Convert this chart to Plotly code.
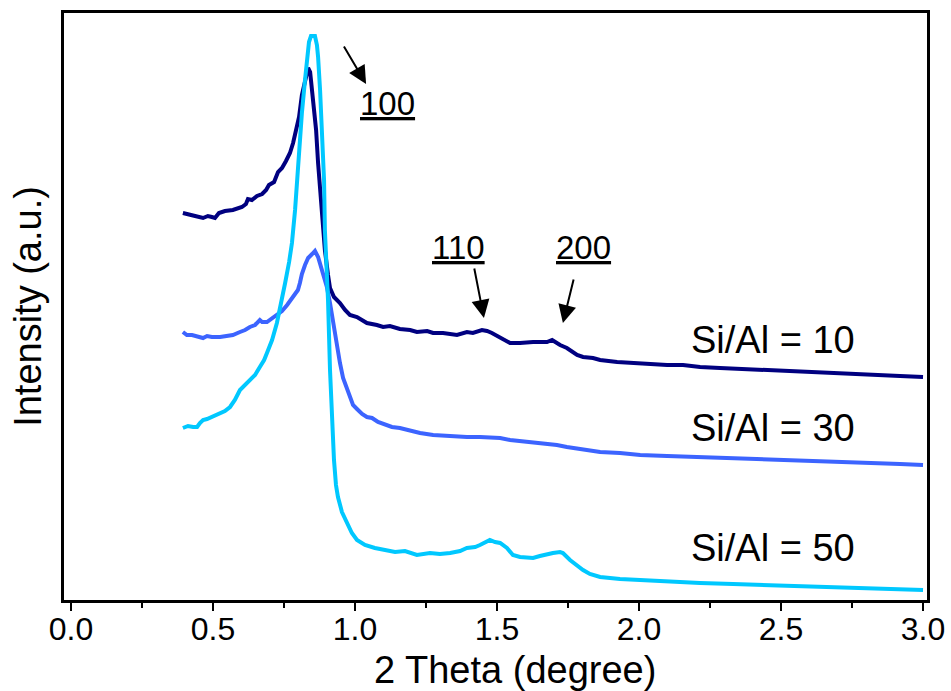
import plotly.graph_objects as go

# Small-angle XRD patterns (2θ in degrees, intensity in arbitrary offset units)
theta_10 = [0.394, 0.412, 0.437, 0.465, 0.482, 0.496, 0.507, 0.521, 0.542, 0.570,
            0.588, 0.602, 0.616, 0.623, 0.637, 0.655, 0.673, 0.687, 0.697, 0.715,
            0.729, 0.743, 0.757, 0.771, 0.782, 0.792, 0.803, 0.813, 0.824, 0.835,
            0.842, 0.852, 0.863, 0.870, 0.880, 0.887, 0.894, 0.905, 0.912, 0.926,
            0.947, 0.965, 0.982, 1.007, 1.042, 1.077, 1.099, 1.123, 1.158, 1.194,
            1.218, 1.254, 1.275, 1.310, 1.359, 1.394, 1.415, 1.447, 1.465, 1.482,
            1.511, 1.546, 1.581, 1.627, 1.676, 1.694, 1.722, 1.746, 1.782, 1.803,
            1.838, 1.863, 1.923, 1.979, 2.039, 2.099, 2.155, 2.215, 2.285, 2.356,
            2.451, 2.532, 2.602, 2.683, 2.778, 2.849, 2.919, 3.000]
int_10 = [387, 386, 384, 382, 384, 383, 382, 387, 389, 390,
          392, 393, 396, 401, 400, 404, 406, 410, 415, 418,
          428, 432, 439, 447, 457, 470, 483, 505, 520, 532,
          528, 503, 470, 437, 400, 370, 350, 325, 312, 303,
          297, 290, 285, 283, 277, 275, 273, 274, 271, 270,
          268, 269, 267, 267, 265, 268, 267, 270, 269, 267,
          262, 257, 257, 258, 258, 260, 255, 252, 245, 243,
          242, 240, 238, 237, 236, 235, 235, 233, 232, 231,
          230, 229, 228, 227, 226, 225, 224, 223]

theta_30 = [0.394, 0.408, 0.426, 0.444, 0.465, 0.479, 0.496, 0.525, 0.546, 0.570,
            0.595, 0.613, 0.630, 0.648, 0.665, 0.673, 0.690, 0.708, 0.725, 0.743,
            0.761, 0.775, 0.785, 0.799, 0.806, 0.813, 0.824, 0.835, 0.849, 0.859,
            0.870, 0.880, 0.891, 0.901, 0.912, 0.923, 0.933, 0.947, 0.958, 0.972,
            0.982, 0.993, 1.007, 1.025, 1.042, 1.060, 1.081, 1.106, 1.130, 1.158,
            1.194, 1.229, 1.275, 1.317, 1.359, 1.394, 1.440, 1.475, 1.511, 1.546,
            1.581, 1.627, 1.669, 1.711, 1.746, 1.792, 1.827, 1.863, 1.933, 2.004,
            2.099, 2.215, 2.331, 2.447, 2.567, 2.683, 2.813, 2.919, 3.000]
int_30 = [268, 265, 265, 264, 262, 264, 263, 263, 264, 265,
          268, 270, 273, 275, 280, 278, 278, 282, 285, 289,
          295, 300, 304, 310, 317, 326, 335, 342, 346, 349,
          343, 334, 324, 313, 297, 277, 257, 237, 222, 210,
          202, 195, 191, 186, 183, 182, 178, 175, 173, 172,
          169, 167, 165, 164, 164, 163, 163, 163, 162, 160,
          159, 157, 156, 155, 153, 151, 150, 148, 147, 145,
          144, 143, 142, 141, 140, 139, 137, 136, 135]

theta_50 = [0.394, 0.412, 0.430, 0.444, 0.454, 0.465, 0.479, 0.496, 0.514, 0.525,
            0.542, 0.560, 0.577, 0.595, 0.613, 0.630, 0.648, 0.665, 0.680, 0.690,
            0.708, 0.725, 0.739, 0.754, 0.768, 0.778, 0.789, 0.796, 0.806, 0.813,
            0.824, 0.831, 0.838, 0.845, 0.859, 0.866, 0.870, 0.877, 0.884, 0.891,
            0.894, 0.905, 0.912, 0.919, 0.926, 0.933, 0.940, 0.954, 0.972, 0.989,
            1.007, 1.035, 1.070, 1.099, 1.141, 1.176, 1.218, 1.264, 1.299, 1.335,
            1.370, 1.394, 1.423, 1.440, 1.458, 1.475, 1.493, 1.511, 1.535, 1.556,
            1.581, 1.606, 1.627, 1.651, 1.676, 1.697, 1.722, 1.732, 1.757, 1.782,
            1.803, 1.827, 1.863, 1.933, 2.004, 2.099, 2.215, 2.331, 2.451, 2.567,
            2.683, 2.813, 2.919, 3.000]
int_50 = [172, 174, 173, 173, 177, 180, 181, 183, 185, 187,
          189, 193, 200, 210, 215, 220, 225, 233, 240, 247,
          260, 277, 295, 317, 338, 357, 390, 420, 455, 487,
          520, 543, 558, 564, 564, 555, 543, 510, 470, 420,
          370, 300, 230, 180, 140, 115, 103, 88, 77, 67,
          60, 55, 52, 50, 48, 49, 45, 47, 46, 47,
          49, 52, 53, 55, 58, 60, 58, 57, 52, 45,
          43, 42, 42, 44, 46, 47, 48, 47, 40, 34,
          30, 26, 23, 21, 20, 18, 17, 16, 15, 14,
          13, 12, 11, 10]

series_names = ["Si/Al = 10", "Si/Al = 30", "Si/Al = 50"]
series_colors = ["#000080", "#3c64ff", "#00c8ff"]
label_x = [2.472, 2.472, 2.472]
label_y = [260, 172, 52]

# Miller-index markers: label position, arrow tail, arrow head
peak_labels = ["100", "110", "200"]
peak_label_x = [1.113, 1.363, 1.803]
peak_label_y = [497, 353, 353]
arrow_tail_x = [0.958, 1.419, 1.771]
arrow_tail_y = [555, 333, 322]
arrow_head_x = [1.039, 1.454, 1.732]
arrow_head_y = [516, 282, 277]

FONT = "Liberation Sans, Arial, sans-serif"

fig = go.Figure()
for xs, ys, name, col in zip([theta_10, theta_30, theta_50],
                             [int_10, int_30, int_50],
                             series_names, series_colors):
    fig.add_trace(go.Scatter(x=xs, y=ys, mode="lines", name=name,
                             line=dict(color=col, width=4),
                             showlegend=False))

annotations = []
for name, lx, ly in zip(series_names, label_x, label_y):
    annotations.append(dict(x=lx, y=ly, xref="x", yref="y", text=name,
                            showarrow=False, xanchor="center", yanchor="middle",
                            font=dict(family=FONT, size=38, color="black")))
for lab, lx, ly in zip(peak_labels, peak_label_x, peak_label_y):
    annotations.append(dict(x=lx, y=ly, xref="x", yref="y",
                            text=f'<span style="text-decoration:underline">{lab}</span>',
                            showarrow=False, xanchor="center", yanchor="middle",
                            font=dict(family=FONT, size=33, color="black")))
for tx, ty, hx, hy in zip(arrow_tail_x, arrow_tail_y, arrow_head_x, arrow_head_y):
    annotations.append(dict(x=hx, y=hy, xref="x", yref="y",
                            ax=tx, ay=ty, axref="x", ayref="y",
                            text="", showarrow=True, arrowhead=2,
                            arrowsize=1.8, arrowwidth=2, arrowcolor="black",
                            standoff=0))
# x-axis title, set slightly right of the plot centre
annotations.append(dict(x=0.523, y=-0.119, xref="paper", yref="paper",
                        text="2 Theta (degree)", showarrow=False,
                        xanchor="center", yanchor="middle",
                        font=dict(family=FONT, size=38, color="black")))

fig.update_layout(
    width=951, height=691,
    margin=dict(l=64, r=24, t=13, b=91),
    paper_bgcolor="white", plot_bgcolor="white",
    font=dict(family=FONT, color="black"),
    annotations=annotations,
    xaxis=dict(
        range=[-0.0246, 3.014],
        automargin=False,
        tickmode="array",
        tickvals=[0.0, 0.5, 1.0, 1.5, 2.0, 2.5, 3.0],
        ticktext=["0.0", "0.5", "1.0", "1.5", "2.0", "2.5", "3.0"],
        ticks="outside", ticklen=8, tickwidth=2, tickcolor="black",
        ticklabelstandoff=-9,
        minor=dict(tickvals=[0.25, 0.75, 1.25, 1.75, 2.25, 2.75],
                   ticks="outside", ticklen=5, tickwidth=2, tickcolor="black"),
        tickfont=dict(family=FONT, size=32, color="black"),
        showline=True, linewidth=3, linecolor="black", mirror=True,
        showgrid=False, zeroline=False,
    ),
    yaxis=dict(
        range=[0, 587],
        automargin=False,
        showticklabels=False, ticks="",
        showline=True, linewidth=3, linecolor="black", mirror=True,
        showgrid=False, zeroline=False,
        title=dict(text="Intensity (a.u.)", standoff=8,
                   font=dict(family=FONT, size=38, color="black")),
    ),
)

fig.write_html("out.html")
